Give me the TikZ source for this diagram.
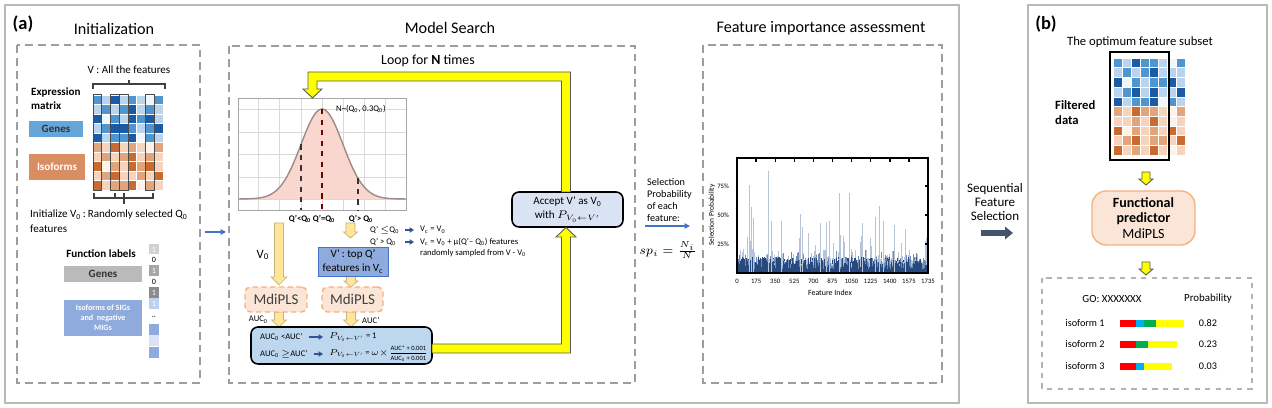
\RequirePackage{fix-cm}
\documentclass[tikz,border=0pt]{standalone}
\usepackage{fontspec}
\setmainfont{Carlito}
\usetikzlibrary{arrows.meta}
\definecolor{hb0}{HTML}{F1F6FB}
\definecolor{hb1}{HTML}{B9D4EC}
\definecolor{hb2}{HTML}{4F95D0}
\definecolor{hb3}{HTML}{1C5AA6}
\definecolor{ho0}{HTML}{FDF2EA}
\definecolor{ho1}{HTML}{F5D3BC}
\definecolor{ho2}{HTML}{E2A47A}
\definecolor{ho3}{HTML}{C96A30}
\definecolor{arrblue}{HTML}{2F5597}
\definecolor{lineblue}{HTML}{4472C4}
\definecolor{beige}{HTML}{FFE699}
\definecolor{beigedk}{HTML}{C9B27C}
\definecolor{peach}{HTML}{FBE5D6}
\definecolor{peachdk}{HTML}{F4B183}
\definecolor{boxblue}{HTML}{BDD7EE}
\definecolor{paleblue}{HTML}{DAE3F3}
\definecolor{midblue}{HTML}{8FAADC}
\definecolor{genesblue}{HTML}{64A6DA}
\definecolor{isoorange}{HTML}{D88D62}
\definecolor{gausspink}{HTML}{F9D6CE}
\definecolor{gaussline}{HTML}{9E8A86}
\definecolor{slate}{HTML}{44546A}
\definecolor{barlt}{HTML}{B7C4D8}
\definecolor{barmd}{HTML}{6F8CB8}
\definecolor{bardk}{HTML}{27497D}
\definecolor{gored}{HTML}{FF0000}
\definecolor{gocyan}{HTML}{00B0F0}
\definecolor{gogreen}{HTML}{00B050}
\definecolor{goyellow}{HTML}{FFFF00}
\newcommand{\blockdown}[7]{\filldraw[#7] ({#1-#4},#2) -- ({#1-#4},{#3-#6}) -- ({#1-#5},{#3-#6}) -- (#1,#3) -- ({#1+#5},{#3-#6}) -- ({#1+#4},{#3-#6}) -- ({#1+#4},#2) -- cycle;}
\newcommand{\heatmap}[6]{%
  \foreach \hrow [count=\hr] in {#5}{\foreach \hv [count=\hc] in \hrow {\fill[fill=hb\hv, draw=white, line width=0.3pt] ({#1+(\hc-1)*#3},{#2+(\hr-1)*#4}) rectangle ++(#3,#4);}}%
  \foreach \hrow [count=\hr] in {#6}{\foreach \hv [count=\hc] in \hrow {\fill[fill=ho\hv, draw=white, line width=0.3pt] ({#1+(\hc-1)*#3},{#2+(\hr+4)*#4}) rectangle ++(#3,#4);}}}

\begin{document}
\begin{tikzpicture}[x=0.02cm, y=-0.02cm,
    ttl/.style={font=\fontsize{9.2}{11}\selectfont},
    mid/.style={font=\fontsize{7.9}{9.5}\selectfont},
    plbl/.style={font=\fontsize{10.5}{12}\selectfont\bfseries},
    txt/.style={font=\fontsize{6.3}{7.9}\selectfont},
    txtb/.style={font=\fontsize{6.3}{7.9}\selectfont\bfseries},
    sm/.style={font=\fontsize{4.9}{6}\selectfont},
    smb/.style={font=\fontsize{4.9}{6}\selectfont\bfseries},
    tiny/.style={font=\fontsize{3.8}{4.5}\selectfont},
    panel/.style={draw=black!28, line width=1.1pt},
    dbox/.style={draw=black!38, dash pattern=on 4.5pt off 2.8pt, line width=0.7pt},
    bsz/.style 2 args={minimum width=#1*0.02cm, minimum height=#2*0.02cm, inner sep=0pt},
    bluearr/.style={draw=arrblue, line width=0.8pt, -{Triangle[length=2.5pt,width=3pt]}},
    thinarr/.style={draw=lineblue, line width=0.7pt, -{Triangle[length=3pt,width=3pt]}},
    bdarr/.style={fill=beige, draw=beigedk, line width=0.4pt},
    yarr/.style={fill=goyellow, draw=black!65, line width=0.5pt},
    mdi/.style={fill=peach, draw=peachdk, dash pattern=on 3pt off 2pt, line width=0.8pt, rounded corners=3pt, font=\fontsize{8.5}{10}\selectfont, text=black!75}]
\useasboundingbox (0,0) rectangle (1272,408);

\draw[panel] (5,5) rectangle (959,403);
\draw[dbox] (17,45) rectangle (200,383);
\draw[dbox] (229,46) rectangle (635,383);
\draw[dbox] (703,45) rectangle (942,383);
\node[plbl] (pa) at (23,24) {(a)};
\node[ttl] (tini) at (114,29) {Initialization};
\node[ttl] (tms) at (450,28) {Model Search};
\node[ttl] (tfi) at (821,28) {Feature importance assessment};

\node[txt] (vall) at (129,70) {V : All the features};
\draw[line width=0.6pt, black!75] (93,89) -- (93,84) -- (165,84) -- (165,89) (129,84) -- (129,80);
\heatmap{93}{95}{8.75}{9.5}{{2,1,3,1,2,1,0,2},{1,2,1,2,3,1,2,1},{3,0,2,1,3,2,3,1},{1,2,3,3,2,1,2,3},{3,1,2,2,3,0,2,1}}{{2,1,3,1,2,1,0,2},{1,2,1,2,3,1,2,1},{3,0,2,1,3,2,3,1},{1,2,3,1,1,2,1,3},{3,1,2,2,3,0,2,1}}
\foreach \xs in {93,110.5,119.25,145.5}
    \draw[black!70, line width=0.5pt] (\xs,94.5) rectangle ++(8.75,96);
\draw[line width=0.6pt, black!75] (94,193) -- (94,198) -- (153,198) -- (153,193) (115,193) -- (115,198) (124,193) -- (124,204);
\node[txtb, align=left, anchor=west] (expr) at (25,99) {Expression\\matrix};
\node[bsz={54}{16}, fill=genesblue, txtb, text=black!80] (genes) at (56,129) {Genes};
\node[bsz={56}{26}, fill=isoorange, txtb, text=white] (iso) at (57,167) {Isoforms};
\node[txt, anchor=west] (init1) at (24,215) {Initialize V\textsubscript{0}\,:\,Randomly selected Q\textsubscript{0}};
\node[txt, anchor=west] (init2) at (24,229) {features};
\node[txtb] (flab) at (101,254) {Function labels};
\node[bsz={78}{16}, fill=black!27, txtb, text=black!80] (ggenes) at (103,274) {Genes};
\node[bsz={78}{36}, fill=midblue, font=\fontsize{4.6}{5.8}\selectfont\bfseries, text=white, align=center] (giso) at (103,318) {Isoforms of SIGs\\and\ \ negative\\MIGs};
\foreach \yy/\ff/\tc/\lb [count=\k] in {249.5/black!18/white/1, 260/white/black/0, 271/black!35/white/1, 282/white/black/0, 293/black!45/white/1, 304/hb1/white/1, 317/white/black/.., 329.5/midblue/white/, 341/paleblue/white/, 352.5/midblue/white/}
    \node[bsz={10}{11}, fill=\ff, text=\tc, font=\fontsize{4.6}{5}\selectfont] (fl\k) at (154,\yy) {\lb};
\coordinate (ia) at (205,232);
\coordinate (ib) at (226,232);
\draw[thinarr] (ia) -- (ib);

\node[mid] (loop) at (428,61) {Loop for \textbf{N} times};
\foreach \gx in {258,279,301,322,343,364,385}
    \draw[black!15, line width=0.4pt] (\gx,98) -- (\gx,210);
\foreach \gy in {109,132,154,177,199}
    \draw[black!15, line width=0.4pt] (238,\gy) -- (406,\gy);
\fill[gausspink] (238,199) -- plot[domain=238:406, samples=90] (\x,{199-90*exp(-((\x-322)^2)/882)}) -- (406,199) -- cycle;
\draw[gaussline, line width=0.8pt] plot[domain=238:406, samples=90] (\x,{199-90*exp(-((\x-322)^2)/882)});
\draw[black!35, line width=0.5pt] (238,98) rectangle (406,210);
\draw[dashed, black!80, line width=0.7pt] (301,144.4) -- (301,210);
\draw[dashed, red!45!black, line width=0.7pt] (322,109) -- (322,210);
\draw[dashed, black!80, line width=0.7pt] (358,178.3) -- (358,210);
\node[sm, anchor=west] (nd) at (330,109) {N\textasciitilde(Q\textsubscript{0}, 0.3Q\textsubscript{0})};
\node[smb] (qlt) at (300,219) {Q’<Q\textsubscript{0}};
\node[smb] (qeq) at (324,219) {Q’=Q\textsubscript{0}};
\node[smb] (qgt) at (361,219) {Q’> Q\textsubscript{0}};

\blockdown{279}{223}{285}{4.5}{8}{8}{bdarr}
\blockdown{350.5}{223}{238}{4.5}{7}{6}{bdarr}
\blockdown{351}{276}{287}{4.5}{7}{6}{bdarr}
\blockdown{279}{312}{327}{4.5}{7.5}{7}{bdarr}
\blockdown{351}{312}{327}{4.5}{7.5}{7}{bdarr}
\node[font=\fontsize{7.2}{8}\selectfont] (v0) at (263,255) {V\textsubscript{0}};
\node[bsz={70}{29}, fill=midblue, draw=lineblue, line width=0.5pt, txt, align=center] (vp) at (353,261.5) {V’\,:\ top Q’\\features in V\textsubscript{c}};
\node[sm, anchor=west] (c1) at (364,230) {Q’ $\leq$Q\textsubscript{0}};
\node[sm, anchor=west] (r1) at (414,230) {V\textsubscript{c} = V\textsubscript{0}};
\node[sm, anchor=west] (c2) at (364,242) {Q’ > Q\textsubscript{0}};
\node[sm, anchor=west] (r2) at (414,242) {V\textsubscript{c} = V\textsubscript{0} + μ(Q’– Q\textsubscript{0}) features};
\node[sm, anchor=west] (r3) at (414,253) {randomly sampled from V - V\textsubscript{0}};
\draw[bluearr] (c1.east) -- (c1.east -| r1.west);
\draw[bluearr] (c2.east -| c1.east) -- (c2.east -| r2.west);

\node[mdi, bsz={62}{25}] (md1) at (276,299.5) {MdiPLS};
\node[mdi, bsz={61}{25}] (md2) at (352.5,299.5) {MdiPLS};
\node[sm, anchor=east] (a0) at (274,320) {AUC\textsubscript{0}};
\node[sm, anchor=west] (a1) at (356,320) {AUC’};
\node[bsz={181}{37}, fill=boxblue, draw=black, line width=0.9pt, rounded corners=4pt] (auc) at (341.5,345.5) {};
\node[sm, anchor=west] (e1) at (254,337) {AUC\textsubscript{0} <AUC’};
\node[sm, anchor=west] (f1) at (323,337) {$P_{V_0\leftarrow V'}$ = 1};
\node[sm, anchor=west] (e2) at (254,354) {AUC\textsubscript{0} $\geq$AUC’};
\node[sm, anchor=west] (f2) at (323,354) {$P_{V_0\leftarrow V'}$\,=\,$\omega{\times}\frac{\mbox{\fontsize{3.7}{4.2}\selectfont AUC* + 0.001\rule[-0.5pt]{0pt}{1pt}}}{\mbox{\fontsize{3.7}{4.2}\selectfont\rule{0pt}{3.6pt}AUC\textsubscript{0} + 0.001}}$};
\draw[bluearr] (e1.east) -- (e1.east -| f1.west);
\draw[bluearr] (e2.east) -- (e2.east -| f2.west);

\node[bsz={111}{35}, fill=paleblue, draw=black, line width=0.9pt, rounded corners=4pt, txt, align=center] (acc) at (567.5,209.5) {Accept V’ as V\textsubscript{0}\\with $P_{V_0\leftarrow V'}$};
\filldraw[yarr] (561.5,192) -- (561.5,81) -- (317,81) -- (317,89) -- (322,89) -- (312.5,98) -- (303,89) -- (308,89) -- (308,72) -- (570.5,72) -- (570.5,192) -- cycle;
\filldraw[yarr] (432,344) -- (561.5,344) -- (561.5,237) -- (556,237) -- (566,227.5) -- (576,237) -- (570.5,237) -- (570.5,353) -- (432,353) -- cycle;

\node[font=\fontsize{5.8}{6.8}\selectfont, align=left, anchor=west] (selp) at (641,200) {Selection\\Probability\\of each\\feature:};
\coordinate (sa) at (645,226);
\coordinate (sb) at (690,226);
\draw[thinarr] (sa) -- (sb);
\node[font=\fontsize{7}{8}\selectfont] (spi) at (668,250) {$sp_i = \frac{N_i}{N}$};

\pgfmathsetseed{5}
\foreach \i in {0,...,347}{
    \pgfmathsetmacro{\bx}{737.4+\i*0.549}
    \pgfmathsetmacro{\ha}{116*(0.08+0.32*rnd*rnd*rnd)}
    \pgfmathsetmacro{\hb}{116*(0.05+0.16*rnd*rnd)}
    \pgfmathsetmacro{\hc}{116*(0.03+0.11*rnd)}
    \fill[barlt] (\bx,273) rectangle ++(0.6,-\ha);
    \fill[barmd] (\bx,273) rectangle ++(0.6,-\hb);
    \fill[bardk] (\bx,273) rectangle ++(0.6,-\hc);
}
\foreach \sx/\sp in {749/0.76, 750.5/0.57, 752.5/0.47, 768/0.88, 771/0.45, 781/0.45, 800/0.51, 802/0.40, 820/0.43, 826/0.44, 829/0.45, 839/0.69, 849/0.69, 862/0.43, 875/0.48, 879/0.58, 883/0.45, 894/0.41, 905/0.38}
    \fill[barlt] (\sx,273) rectangle ++(0.7,{-116*\sp});
\draw[line width=0.9pt] (737,158) rectangle (928,273);
\foreach \k in {1,...,9}
    \draw[line width=0.8pt] ({737+19.1*\k},158) -- ++(0,4);
\foreach \ty/\tl in {186/75\%, 215/50\%, 244/25\%}{
    \draw[line width=0.8pt] (928,\ty) -- ++(-3,0);
    \node[tiny, anchor=east] (yl\ty) at (735,\ty) {\tl};
}
\foreach \lab [count=\k from 0] in {0,175,350,525,700,875,1050,1225,1400,1575,1735}
    \node[tiny] (xl\k) at ({737+19.1*\k},281) {\lab};
\node[font=\fontsize{4.5}{5}\selectfont] (fidx) at (830,293) {Feature Index};
\node[font=\fontsize{4.2}{5}\selectfont, rotate=90] (sprob) at (712,215) {Selection Probability};

\node[font=\fontsize{7.4}{8.2}\selectfont, align=center] (seq) at (995,202) {Sequential\\Feature\\Selection};
\coordinate (qa) at (981,233);
\coordinate (qb) at (1013,233);
\draw[draw=slate, line width=3pt, -{Triangle[length=4.5pt,width=7pt]}] (qa) -- (qb);

\draw[panel] (1028,5) rectangle (1267,403);
\node[plbl] (pb) at (1046,24) {(b)};
\node[font=\fontsize{7.2}{8.5}\selectfont] (opt) at (1140,42) {The optimum feature subset};
\heatmap{1113}{58}{9}{9.7}{{2,1,3,2,2,1,0,2},{1,2,1,2,3,1,1,1},{3,0,2,1,2,2,3,1},{1,2,3,1,3,1,1,3},{3,1,2,2,3,0,2,1}}{{2,1,3,2,2,1,0,2},{1,1,2,1,3,1,0,1},{3,0,2,1,2,1,3,1},{1,2,3,1,2,2,1,3},{3,1,2,1,3,1,0,1}}
\draw[line width=0.8pt] (1110,52) rectangle (1169,160);
\node[font=\fontsize{7.2}{8.5}\selectfont\bfseries, align=left, anchor=west] (filt) at (1049,112.5) {Filtered\\data};
\blockdown{1146}{172}{185}{4}{7}{6}{yarr}
\node[bsz={103}{54}, fill=peach, draw=peachdk, line width=0.8pt, rounded corners=8pt, align=center, font=\fontsize{8}{8.8}\selectfont] (fp) at (1143.5,218) {\textbf{Functional}\\\textbf{predictor}\\MdiPLS};
\blockdown{1146}{262}{275}{4}{7}{6}{yarr}
\draw[dashed, black!30, line width=0.6pt] (1042,278) rectangle (1252,389);
\node[font=\fontsize{6.2}{7}\selectfont] (go) at (1112,299) {GO: XXXXXXX};
\node[font=\fontsize{6.2}{7}\selectfont] (prob) at (1208,299) {Probability};
\foreach \yy/\nm/\pv [count=\k] in {323/1/0.82, 344/2/0.23, 366/3/0.03}{
    \node[font=\fontsize{5.8}{7}\selectfont] (isf\k) at (1085,\yy) {isoform \nm};
    \node[font=\fontsize{5.8}{7}\selectfont] (pv\k) at (1208,\yy) {\pv};
}
\fill[gored] (1120,320) rectangle (1136,327);
\fill[gocyan] (1136,320) rectangle (1144,327);
\fill[gogreen] (1144,320) rectangle (1156,327);
\fill[goyellow] (1156,320) rectangle (1184,327);
\fill[gored] (1120,341) rectangle (1136,348);
\fill[gogreen] (1136,341) rectangle (1148,348);
\fill[goyellow] (1148,341) rectangle (1177,348);
\fill[gored] (1120,363) rectangle (1136,370);
\fill[gocyan] (1136,363) rectangle (1144,370);
\fill[goyellow] (1144,363) rectangle (1172,370);
\end{tikzpicture}
\end{document}
